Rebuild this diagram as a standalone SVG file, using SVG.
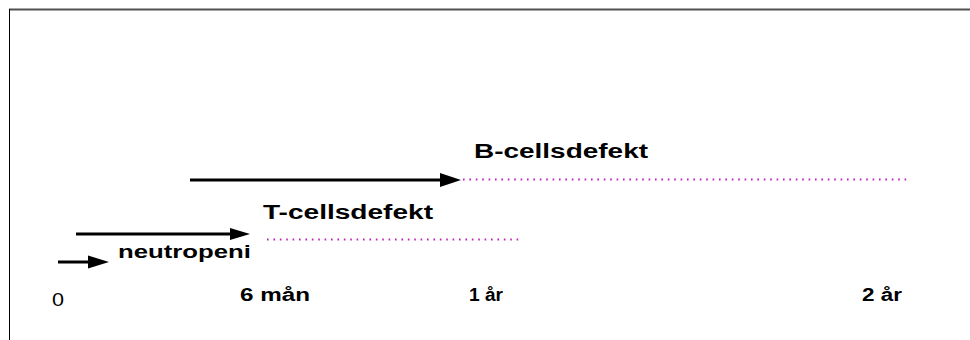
<svg xmlns="http://www.w3.org/2000/svg" width="970" height="340" viewBox="0 0 970 340">
<style>
.lbl{font-family:"Liberation Sans",Arial,sans-serif;font-weight:bold;fill:#000}
.ax{font-family:"Liberation Sans",Arial,sans-serif;font-weight:bold;font-size:18px;fill:#000}
.shaft{stroke:#000;stroke-width:3;fill:none}
.head{fill:#000}
.dot{stroke:#c020c0;stroke-width:2;stroke-dasharray:1.6 4.8;fill:none}
</style>
<rect x="0" y="0" width="970" height="340" fill="#fff"/>
<line x1="9" y1="9.5" x2="970" y2="9.5" stroke="#505050" stroke-width="2"/>
<line x1="9.5" y1="9" x2="9.5" y2="340" stroke="#000" stroke-width="1"/>
<g id="connectors">
<line class="shaft" x1="190" y1="180" x2="445" y2="180"/>
<polygon class="head" points="440,173 461,180 440,187"/>
<line class="dot" x1="463" y1="179.5" x2="907" y2="179.5"/>
<line class="shaft" x1="76" y1="234" x2="235" y2="234"/>
<polygon class="head" points="230,228 250,234 230,240"/>
<line class="dot" x1="267" y1="239.5" x2="522" y2="239.5"/>
<line class="shaft" x1="58" y1="262" x2="92" y2="262"/>
<polygon class="head" points="88,255.5 109,262 88,268.5"/>
</g>
<g id="b-cell"><text class="lbl" x="474" y="158" font-size="20" textLength="174" lengthAdjust="spacingAndGlyphs">B-cellsdefekt</text></g>
<g id="t-cell"><text class="lbl" x="263" y="219" font-size="20" textLength="170" lengthAdjust="spacingAndGlyphs">T-cellsdefekt</text></g>
<g id="neutropeni"><text x="118" y="258" font-family="Liberation Sans, Arial, sans-serif" font-size="19" font-weight="bold" fill="#000" textLength="133" lengthAdjust="spacingAndGlyphs">neutropeni</text></g>
<g id="axis">
<text x="52" y="306" font-family="Liberation Sans, Arial, sans-serif" font-size="18" fill="#000" textLength="12" lengthAdjust="spacingAndGlyphs">0</text>
<text class="ax" x="240" y="301" textLength="70" lengthAdjust="spacingAndGlyphs">6 mån</text>
<text class="ax" x="469" y="301" textLength="34" lengthAdjust="spacingAndGlyphs">1 år</text>
<text class="ax" x="862" y="301" textLength="40" lengthAdjust="spacingAndGlyphs">2 år</text>
</g>
</svg>
